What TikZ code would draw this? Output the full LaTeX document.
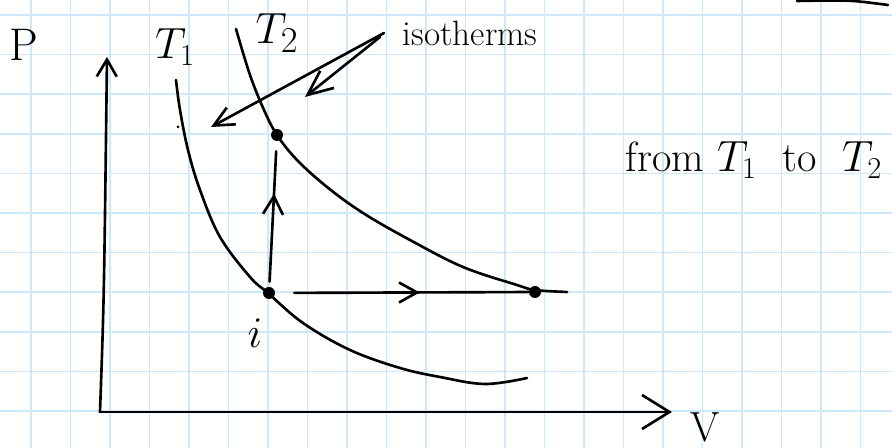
\documentclass[tikz,border=0pt]{standalone}
\usepackage{amsmath}
\usepackage{xcolor}
\usepackage{tikz}
\usetikzlibrary{arrows.meta, decorations.markings}
\definecolor{gridblue}{RGB}{206,232,250}

\begin{document}
\begin{tikzpicture}[
    x=0.02cm, y=-0.02cm,
    inkline/.style={draw, line width=1.5pt, line cap=round, line join=round},
    gridline/.style={draw=gridblue, line width=0.9pt},
    dotnode/.style={circle, fill=black, minimum size=0.24cm, inner sep=0pt},
    lbl/.style={inner sep=0pt, font=\fontsize{24}{28}\selectfont},
    midarrow/.style={postaction={decorate}, decoration={markings,
        mark=at position #1 with {\arrow{Straight Barb[length=0.36cm, width=0.4cm]}}}}
  ]
  \useasboundingbox (0,0) rectangle (892,448);
  \foreach \k in {0,...,21}
    \draw[gridline] ({31+39.5*\k},0) -- ({31+39.5*\k},448);
  \foreach \k in {0,...,10}
    \draw[gridline] (0,{15+39.6*\k}) -- (892,{15+39.6*\k});

  \coordinate (O) at (100,412);
  \coordinate (ptip) at (107,57);
  \coordinate (vtip) at (672,412);
  \draw[inkline, -{Straight Barb[length=0.34cm, width=0.4cm]}] (O) .. controls (104,300) .. (ptip);
  \draw[inkline, -{Straight Barb[length=0.55cm, width=0.68cm]}] (O) -- (vtip);

  \draw[inkline] plot[smooth, tension=0.6] coordinates {(176,80) (180,110) (188,150) (200,190)
    (220,237) (250,277) (268,293) (303,323) (350,350) (400,368) (440,377) (485,384) (527,378)};
  \draw[inkline] plot[smooth, tension=0.6] coordinates {(236,29) (250,75) (264,110) (277,135)
    (297,160) (327,187) (363,213) (410,240) (463,267) (517,285) (535,290) (567,292)};
  \fill (178,127) circle[radius=0.03cm];
  \draw[inkline] (797,1) .. controls (850,0) .. (888,5);

  \node[dotnode] (i) at (269,293) {};
  \node[dotnode] (f1) at (277,135) {};
  \node[dotnode] (f2) at (535,292) {};
  \draw[inkline, midarrow=0.64, shorten <=0.1cm, shorten >=0.2cm] (i) -- (f1);
  \draw[inkline, midarrow=0.57, shorten <=0.38cm] (i) -- (f2);

  \node[lbl, font=\fontsize{26}{30}\selectfont] (plabel) at (24,45) {P};
  \node[lbl, font=\fontsize{26}{30}\selectfont] (t1label) at (175,47) {$T_1$};
  \node[lbl, font=\fontsize{28}{32}\selectfont] (t2label) at (277,33) {$T_2$};
  \node[lbl, font=\fontsize{20}{24}\selectfont] (iso) at (470,33) {isotherms};
  \coordinate (isostartA) at (384,33);
  \coordinate (isostartB) at (380,37);
  \coordinate (isoA) at (211,127);
  \coordinate (isoB) at (305,97);
  \draw[inkline, -{Straight Barb[length=0.4cm, width=0.38cm]}] (isostartA) -- (isoA);
  \draw[inkline, -{Straight Barb[length=0.5cm, width=0.44cm]}] (isostartB) -- (isoB);
  \node[lbl] (fromlabel) at (754,160) {from $T_1$ \ to \ $T_2$};
  \node[lbl] (ilabel) at (255,333) {$i$};
  \node[lbl] (vlabel) at (705,427) {V};
\end{tikzpicture}
\end{document}
